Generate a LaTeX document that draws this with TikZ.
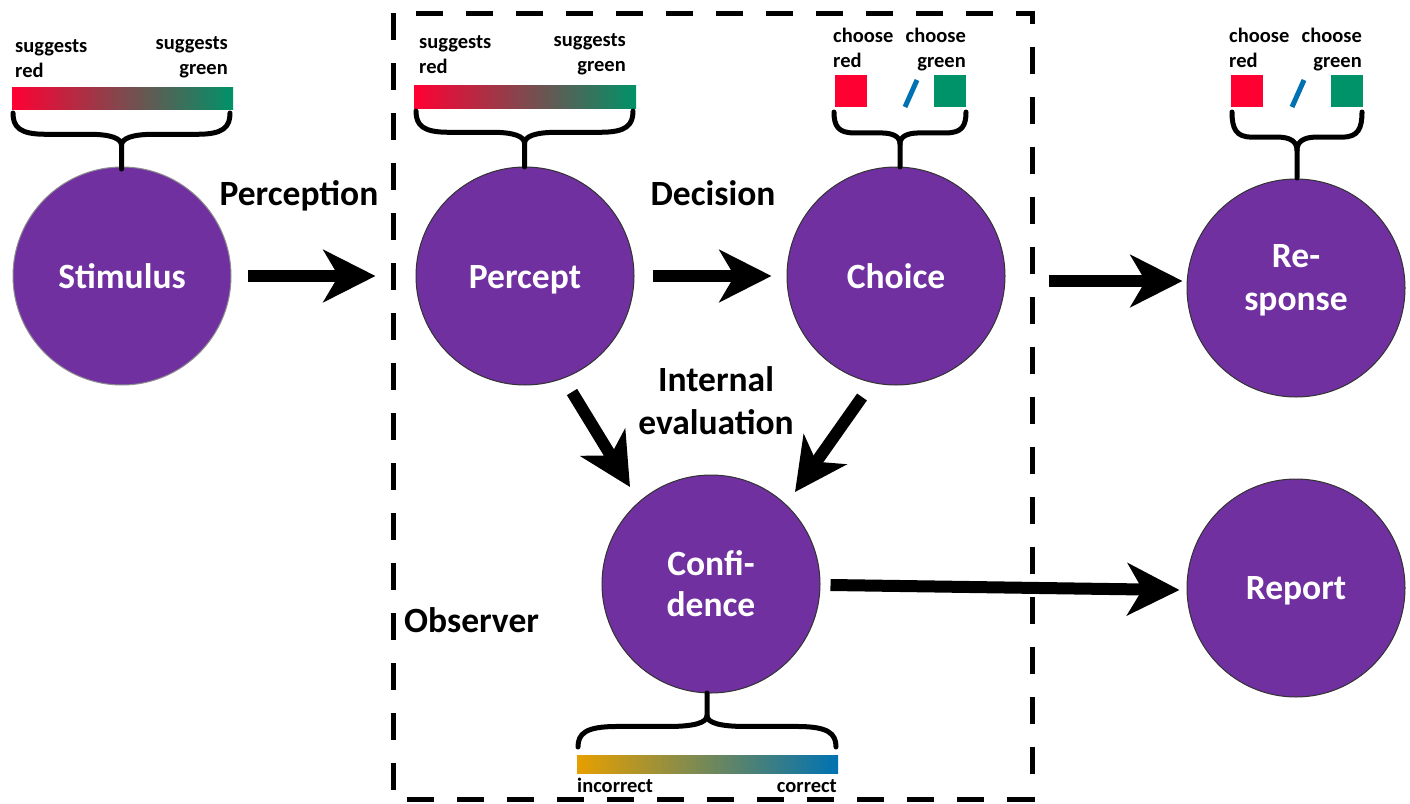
\documentclass[tikz,border=0pt]{standalone}
\usepackage{fontspec}
\setmainfont{Carlito}
\usetikzlibrary{arrows.meta,calc}
\definecolor{purp}{RGB}{112,48,160}
\definecolor{sred}{RGB}{255,0,51}
\definecolor{sgreen}{RGB}{0,146,104}
\definecolor{corange}{RGB}{230,159,0}
\definecolor{cblue}{RGB}{0,114,178}
\tikzset{
  bubble/.style={circle, minimum size=218pt, inner sep=0pt, fill=purp, draw=black!80, line width=1pt},
  intext/.style={text=white, font=\fontsize{35.5}{42}\selectfont\bfseries, inner sep=0pt, anchor=base},
  biglabel/.style={font=\fontsize{35.5}{43}\selectfont\bfseries, inner sep=0pt, anchor=base},
  small/.style={font=\fontsize{20.5}{25}\selectfont\bfseries, inner sep=0pt},
  bracestyle/.style={line width=5pt, line cap=round, line join=round},
  bigarrow/.style={line width=12pt, -{Stealth[length=52pt, width=52pt, inset=15pt]}},
  obsbox/.style={line width=5pt, dash pattern=on 27pt off 23pt},
  slash/.style={cblue, line width=5pt}
}
\newcommand\mybrace[4]{%
  \pgfmathsetmacro\bxm{(#1+#2)/2}%
  \pgfmathsetmacro\bw{#2-#1}%
  \pgfmathsetmacro\bh{#4-#3}%
  \draw[bracestyle] (\bxm,#4) -- (\bxm,{#3+0.58*\bh})
    .. controls (\bxm,{#3+0.45*\bh}) and ({\bxm-0.05*\bw},{#3+0.38*\bh}) .. ({\bxm-0.15*\bw},{#3+0.38*\bh})
    -- ({#1+0.15*\bw},{#3+0.38*\bh})
    .. controls ({#1+0.03*\bw},{#3+0.38*\bh}) and (#1,{#3+0.25*\bh}) .. (#1,#3);
  \draw[bracestyle] (\bxm,{#3+0.58*\bh})
    .. controls (\bxm,{#3+0.45*\bh}) and ({\bxm+0.05*\bw},{#3+0.38*\bh}) .. ({\bxm+0.15*\bw},{#3+0.38*\bh})
    -- ({#2-0.15*\bw},{#3+0.38*\bh})
    .. controls ({#2-0.03*\bw},{#3+0.38*\bh}) and (#2,{#3+0.25*\bh}) .. (#2,#3);
}
\begin{document}
\begin{tikzpicture}[x=1pt, y=-1pt]
\useasboundingbox (0,0) rectangle (1410,803);
% observer box
\draw[obsbox] (393,13) rectangle (1032,799);
% circles
\node[bubble, draw=black!45] (stim) at (122,276) {};
\node[bubble] (perc) at (525,276) {};
\node[bubble] (choice) at (896,276) {};
\node[bubble] (resp) at (1296,288) {};
\node[bubble] (conf) at (711,584) {};
\node[bubble] (report) at (1296,588) {};
% circle texts
\node[intext] (tstim) at (122,288) {Stimulus};
\node[intext] (tperc) at (525,288) {Percept};
\node[intext] (tchoice) at (896,288) {Choice};
\node[intext] (tresp1) at (1296,267) {Re-};
\node[intext] (tresp2) at (1296,310) {sponse};
\node[intext] (tconf1) at (711,575) {Confi-};
\node[intext] (tconf2) at (711,616) {dence};
\node[intext] (treport) at (1296,599) {Report};
% labels
\node[biglabel] (lperc) at (299,205) {Perception};
\node[biglabel] (ldec) at (713,205) {Decision};
\node[biglabel] (lint1) at (716,391) {Internal};
\node[biglabel] (lint2) at (716,434) {evaluation};
\node[biglabel, anchor=base west] (lobs) at (404,632) {Observer};
% stimulus bar
\shade[left color=sred, right color=sgreen] (12,87) rectangle (233,109);
\node[small, anchor=base west] (s1) at (15,52) {suggests};
\node[small, anchor=base west] (s2) at (15,77) {red};
\node[small, anchor=base east] (s3) at (228,49) {suggests};
\node[small, anchor=base east] (s4) at (228,74) {green};
\mybrace{13}{230}{113}{169}
% percept bar
\shade[left color=sred, right color=sgreen] (414,85) rectangle (636,108);
\node[small, anchor=base west] (p1) at (419,48) {suggests};
\node[small, anchor=base west] (p2) at (419,73) {red};
\node[small, anchor=base east] (p3) at (626,46) {suggests};
\node[small, anchor=base east] (p4) at (626,71) {green};
\mybrace{416}{633}{111}{167}
% choice squares
\fill[sred] (835,75) rectangle (867,107);
\fill[sgreen] (934,75) rectangle (966,107);
\draw[slash] (905,107) -- (917,80);
\node[small, anchor=base west] (c1) at (833,42) {choose};
\node[small, anchor=base west] (c2) at (833,67) {red};
\node[small, anchor=base east] (c3) at (966,42) {choose};
\node[small, anchor=base east] (c4) at (966,67) {green};
\mybrace{834}{966}{112}{167}
% response squares
\fill[sred] (1231,75) rectangle (1263,107);
\fill[sgreen] (1331,75) rectangle (1363,107);
\draw[slash] (1292,107) -- (1304,80);
\node[small, anchor=base west] (r1) at (1229,42) {choose};
\node[small, anchor=base west] (r2) at (1229,67) {red};
\node[small, anchor=base east] (r3) at (1362,42) {choose};
\node[small, anchor=base east] (r4) at (1362,67) {green};
\mybrace{1232}{1362}{112}{178}
% confidence bar
\shade[left color=corange, right color=cblue] (577,755) rectangle (838,773);
\node[small, anchor=base west] (k1) at (577,792) {incorrect};
\node[small, anchor=base east] (k2) at (837,792) {correct};
\mybrace{578}{836}{747}{693}
% arrows
\draw[bigarrow, shorten <=16pt, shorten >=40pt] (stim.east) -- (perc.west);
\draw[bigarrow, shorten <=18pt, shorten >=15pt] (perc.east) -- (choice.west);
\draw[bigarrow, shorten <=43pt, shorten >=4pt] (choice.east |- 0,281) -- (resp.west |- 0,281);
\coordinate (a4s) at ($(conf.east)+(10,1)$);
\coordinate (a4e) at ($(report.west)+(-7,2)$);
\draw[bigarrow] (a4s) -- (a4e);
\coordinate (a5s) at ($(perc.center)+(47,116)$);
\coordinate (a5e) at ($(conf.center)+(-81,-97)$);
\draw[bigarrow] (a5s) -- (a5e);
\coordinate (a6s) at ($(choice.center)+(-34,121)$);
\coordinate (a6e) at ($(conf.center)+(84,-92)$);
\draw[bigarrow] (a6s) -- (a6e);
\end{tikzpicture}
\end{document}
